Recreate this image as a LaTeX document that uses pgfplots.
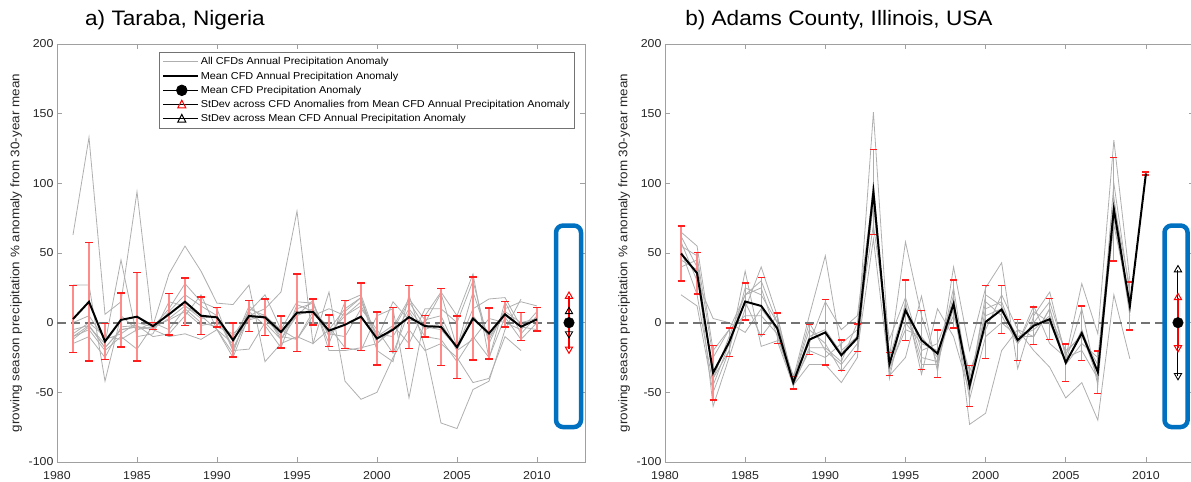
\documentclass[border=0pt]{standalone}
\usepackage{pgfplots}
\pgfplotsset{compat=1.18}
\usepackage{pgfplotstable}
\usepackage{fontspec}
\setmainfont{Liberation Sans}[FakeStretch=1.08]
\definecolor{boxblue}{RGB}{0,112,192}
\definecolor{axgray}{RGB}{160,160,160}
\definecolor{txt}{RGB}{38,38,38}
\definecolor{sdpink}{RGB}{255,140,140}
\definecolor{sdred}{RGB}{255,30,30}
\definecolor{cfdgray}{RGB}{175,175,175}

\pgfplotstableread{
year mean sd
1981 2.6 24
1982 15 42.5
1983 -13.5 13
1984 2 19.4
1985 4.3 31.8
1986 -2.5 2.6
1987 6 14.8
1988 15 17.2
1989 5 13.3
1990 3.8 7
1991 -12.5 12.2
1992 4.8 11.2
1993 3.8 13.2
1994 -6.7 11.5
1995 7.2 27.8
1996 7.7 9.4
1997 -5.7 11.3
1998 -1.5 17.2
1999 4.3 24.3
2000 -11.4 19
2001 -5 15.9
2002 4 22.7
2003 -2.5 7.8
2004 -3 27.6
2005 -17.6 22.5
2006 3 29.9
2007 -7.7 18.3
2008 6 9.2
2009 -2.9 10
2010 2.4 8.4
}\leftmean

\pgfplotstableread{
year L1 L2 L3 L4 L5 L6 L7 L8 L9
1981 63 27 -10 -12 -8 -5 0 -15 -10
1982 133 27 -5 -3 0 -2 5 -10 -2
1983 6 -42 -20 -15 -10 -18 -12 -25 -18
1984 15 5 -10 45 -12 -5 -8 -3 -5
1985 94 -5 -19 -10 -5 -3 0 -2 -3
1986 -5 -3 -2 -8 0 -4 -3 -10 -5
1987 8 10 35 15 -5 3 2 -8 -10
1988 20 28 55 12 10 12 8 5 -8
1989 12 15 37 5 0 3 -2 20 -12
1990 5 10 14 -5 -3 5 0 -5 -5
1991 -18 -20 13 -25 -8 -20 -10 -15 -22
1992 3 8 27 5 2 -19 8 12 10
1993 6 20 -28 10 5 0 -2 2 5
1994 -12 -5 -15 22 -10 -12 -18 -8 -5
1995 5 15 -10 80 -12 10 13 5 -12
1996 10 14 -15 -15 8 14 8 16 5
1997 -8 -10 22 -5 -3 -15 -8 -20 10
1998 5 8 -42 10 -18 15 -10 -20 5
1999 12 18 -55 18 -20 20 10 -18 15
2000 -8 -15 -50 -20 5 -12 -5 -15 -10
2001 -10 -5 -25 -28 10 15 -22 -3 -2
2002 10 15 -5 20 -54 2 8 17 -15
2003 -5 -3 -20 -18 5 0 -10 2 10
2004 0 -5 -15 -72 22 21 -12 5 10
2005 -20 -18 -25 -76 5 -18 -28 -20 0
2006 5 22 -43 -48 35 10 -10 -12 30
2007 -10 -12 -40 -42 -26 17 -25 3 -15
2008 5 8 -10 -5 15 18 4 0 10
2009 -3 0 -20 17 -8 -3 -12 -5 15
2010 2 3 nan nan 5 -5 0 8 12
}\leftall

\pgfplotstableread{
year mean sd
1981 49.6 19.75
1982 35.5 14.8
1983 -36 19.4
1984 -14 10.2
1985 15.2 13.4
1986 12 20.5
1987 -4 11
1988 -43 4.5
1989 -12.2 10.8
1990 -7 23.5
1991 -23.4 11.1
1992 -11 9.9
1993 93.8 30.4
1994 -29.6 8.2
1995 8.8 21.8
1996 -12.5 21.3
1997 -22.2 17
1998 13.4 17.3
1999 -45.4 14.8
2000 0.5 26.3
2001 9.4 17.2
2002 -12.5 14.6
2003 -2.2 13.4
2004 2.5 14.7
2005 -28.7 13.5
2006 -7.5 19.5
2007 -35.5 15.2
2008 81.4 37
2009 12 17.2
2010 107 1
}\rightmean

\pgfplotstableread{
year R1 R2 R3 R4 R5 R6 R7 R8
1981 65 20 62 58 45 52 40 55
1982 55 12 40 30 38 20 45 48
1983 -20 -50 -60 3 -40 -45 -40 -25
1984 -5 -20 -25 0 -10 -15 -20 -5
1985 20 37 10 -7 20 15 25 5
1986 30 -17 40 10 25 -10 20 5
1987 0 -13 5 -5 -10 5 0 -8
1988 -40 -45 -42 -38 -43 -44 -41 -45
1989 5 -30 0 -15 -10 -20 -5 -18
1990 48 -30 -20 15 -5 -25 -15 -18
1991 -20 -43 -30 -5 -22 -15 -35 -28
1992 -10 -25 -15 5 -10 -5 -20 0
1993 151 100 100 95 85 70 60 90
1994 -25 -38 -40 -30 -32 -12 -35 -25
1995 58 -25 15 10 -5 18 0 12
1996 5 19 -37 -30 -10 -20 -15 -25
1997 -30 -35 10 -30 -25 -15 -20 -28
1998 20 40 -10 15 10 15 5 25
1999 -73 -20 -50 -40 -55 -45 -35 -48
2000 -65 25 10 5 -10 15 -5 20
2001 -20 43 15 10 0 5 20 12
2002 -5 -33 -15 -10 -10 -15 -5 -15
2003 -20 5 12 -10 -5 8 -10 0
2004 -32 22 -15 10 5 0 10 15
2005 -54 -25 -25 -30 -20 -28 -30 -22
2006 -43 28 -20 -5 -10 10 -15 -8
2007 -70 -8 -40 -35 -30 -45 -25 -40
2008 20 131 100 80 70 90 85 75
2009 -26 30 20 5 15 10 25 10
}\rightall

\tikzset{bluebox/.style={draw=boxblue, line width=4.5bp, rounded corners=7bp}}

\pgfplotsset{
  panel/.style={
    scale only axis, width=528bp, height=418bp,
    xmin=1980, xmax=2013, ymin=-100, ymax=200,
    xtick={1980,1985,...,2010}, ytick={-100,-50,...,200},
    tick align=inside, major tick length=5bp,
    axis line style={axgray, line width=0.9bp},
    every tick/.style={axgray, line width=0.8bp},
    tick label style={font=\fontsize{11.5}{13}\selectfont, text=txt},
    /pgf/number format/assume math mode=true,
    /pgf/number format/1000 sep={},
    xticklabel style={yshift=-6bp},
    ylabel={growing season precipitation \% anomaly from 30-year mean},
    ylabel style={font=\fontsize{12.5}{14}\selectfont, text=txt},
    title style={anchor=base west, font=\fontsize{21}{24}\selectfont, inner sep=0pt, text=black, yshift=12.5bp},
  },
  allcfd/.style={draw=cfdgray, line width=0.8bp, mark=none, forget plot},
  meanline/.style={draw=black, line width=2bp, mark=none, forget plot},
  zeroline/.style={draw=black!55, line width=1.7bp, dash pattern=on 9bp off 5bp, mark=none, forget plot},
  sdline/.style={draw=sdpink, line width=1.2bp, mark=none, forget plot},
  sdcap/.style={draw=sdred, line width=1.4bp, mark=none, forget plot},
}

% std-dev bars (segment and two caps), one per row of a mean/sd table
\newcommand\sdsegments[1]{%
  \pgfplotstablegetrowsof{#1}%
  \pgfmathtruncatemacro\nlast{\pgfplotsretval-1}%
  \pgfplotsforeachungrouped \i in {0,...,\nlast}{%
    \pgfplotstablegetelem{\i}{year}\of{#1}\let\yr\pgfplotsretval
    \pgfplotstablegetelem{\i}{mean}\of{#1}\let\mn\pgfplotsretval
    \pgfplotstablegetelem{\i}{sd}\of{#1}\let\sdv\pgfplotsretval
    \pgfmathsetmacro\lo{\mn-\sdv}%
    \pgfmathsetmacro\hi{\mn+\sdv}%
    \pgfmathsetmacro\xa{\yr-0.22}%
    \pgfmathsetmacro\xb{\yr+0.22}%
    \edef\tmp{\noexpand\addplot[sdline] coordinates {(\yr,\lo) (\yr,\hi)};%
      \noexpand\addplot[sdcap] coordinates {(\xa,\hi) (\xb,\hi)};%
      \noexpand\addplot[sdcap] coordinates {(\xa,\lo) (\xb,\lo)};}\tmp
  }%
}

\begin{document}
\begin{tikzpicture}
% ---------------- left panel ----------------
\begin{axis}[panel, at={(57bp,20bp)}, anchor=south west,
  title={a) Taraba, Nigeria}, title style={at={(0.053,1)}},
  legend style={at={(0.193,0.981)}, anchor=north west, draw=black!55, line width=0.8bp,
    fill=white, font=\fontsize{10.1}{11}\selectfont, text=black,
    inner xsep=3bp, inner ysep=2.5bp, row sep=0bp,
    nodes={inner sep=1.5bp, text height=8.6bp, text depth=2.6bp}},
  legend cell align=left]
\addlegendimage{legend image code/.code={\draw[cfdgray, line width=0.9bp] (0bp,0bp) -- (35bp,0bp);}}
\addlegendentry{All CFDs Annual Precipitation Anomaly}
\addlegendimage{legend image code/.code={\draw[black, line width=2bp] (0bp,0bp) -- (35bp,0bp);}}
\addlegendentry{Mean CFD Annual Precipitation Anomaly}
\addlegendimage{legend image code/.code={\path (0bp,0bp) -- (35bp,0bp); \fill[black] (18.5bp,0bp) circle (5.3bp);}}
\addlegendentry{Mean CFD Precipitation Anomaly}
\addlegendimage{legend image code/.code={\path (0bp,0bp) -- (35bp,0bp); \draw[red, line width=1bp, line join=miter] (18.5bp,4.3bp) -- (22.5bp,-3.3bp) -- (14.5bp,-3.3bp) -- cycle;}}
\addlegendentry{StDev across CFD Anomalies from Mean CFD Annual Precipitation Anomaly}
\addlegendimage{legend image code/.code={\path (0bp,0bp) -- (35bp,0bp); \draw[black, line width=1bp, line join=miter] (18.5bp,4.3bp) -- (22.5bp,-3.3bp) -- (14.5bp,-3.3bp) -- cycle;}}
\addlegendentry{StDev across Mean CFD Annual Precipitation Anomaly}

\pgfplotsinvokeforeach{L1,L2,L3,L4,L5,L6,L7,L8,L9}{
  \addplot[allcfd] table[x=year, y=#1] {\leftall};
}
\addplot[zeroline] coordinates {(1980,0) (2011.2,0)};
\sdsegments{\leftmean}
\addplot[meanline] table[x=year, y=mean] {\leftmean};

\draw[bluebox] (axis cs:2011.19,69.7) rectangle (axis cs:2012.75,-74.9);
\addplot[black, line width=1bp, forget plot] coordinates {(2012,-8) (2012,8)};
\addplot[red, line width=1.3bp, forget plot] coordinates {(2012,-19) (2012,19)};
\addplot[black, only marks, mark=triangle, mark size=4.2bp, mark options={fill=white, line width=0.9bp}, forget plot] coordinates {(2012,8)};
\addplot[black, only marks, mark=triangle, mark size=4.2bp, mark options={fill=white, line width=0.9bp, rotate=180}, forget plot] coordinates {(2012,-8)};
\addplot[red, only marks, mark=triangle, mark size=4.2bp, mark options={fill=white, line width=1bp}, forget plot] coordinates {(2012,19)};
\addplot[red, only marks, mark=triangle, mark size=4.2bp, mark options={fill=white, line width=1bp, rotate=180}, forget plot] coordinates {(2012,-19)};
\addplot[black, only marks, mark=*, mark size=5.3bp, forget plot] coordinates {(2012,0)};
\end{axis}

% ---------------- right panel ----------------
\begin{axis}[panel, at={(665bp,20bp)}, anchor=south west, width=529bp,
  title={b) Adams County, Illinois, USA}, title style={at={(0.038,1)}}]
\pgfplotsinvokeforeach{R1,R2,R3,R4,R5,R6,R7,R8}{
  \addplot[allcfd] table[x=year, y=#1] {\rightall};
}
\addplot[zeroline] coordinates {(1980,0) (2011.1,0)};
\sdsegments{\rightmean}
\addplot[meanline] table[x=year, y=mean] {\rightmean};

\draw[bluebox] (axis cs:2011.16,69.7) rectangle (axis cs:2012.6,-74.9);
\addplot[black, line width=1bp, forget plot] coordinates {(2012,-38) (2012,38)};
\addplot[red, line width=1.3bp, forget plot] coordinates {(2012,-18) (2012,18)};
\addplot[black, only marks, mark=triangle, mark size=4.2bp, mark options={fill=white, line width=0.9bp}, forget plot] coordinates {(2012,38)};
\addplot[black, only marks, mark=triangle, mark size=4.2bp, mark options={fill=white, line width=0.9bp, rotate=180}, forget plot] coordinates {(2012,-38)};
\addplot[red, only marks, mark=triangle, mark size=4.2bp, mark options={fill=white, line width=1bp}, forget plot] coordinates {(2012,18)};
\addplot[red, only marks, mark=triangle, mark size=4.2bp, mark options={fill=white, line width=1bp, rotate=180}, forget plot] coordinates {(2012,-18)};
\addplot[black, only marks, mark=*, mark size=5.3bp, forget plot] coordinates {(2012,0)};
\end{axis}

\pgfresetboundingbox
\useasboundingbox (0,0) rectangle (1191bp,482bp);
\end{tikzpicture}
\end{document}
